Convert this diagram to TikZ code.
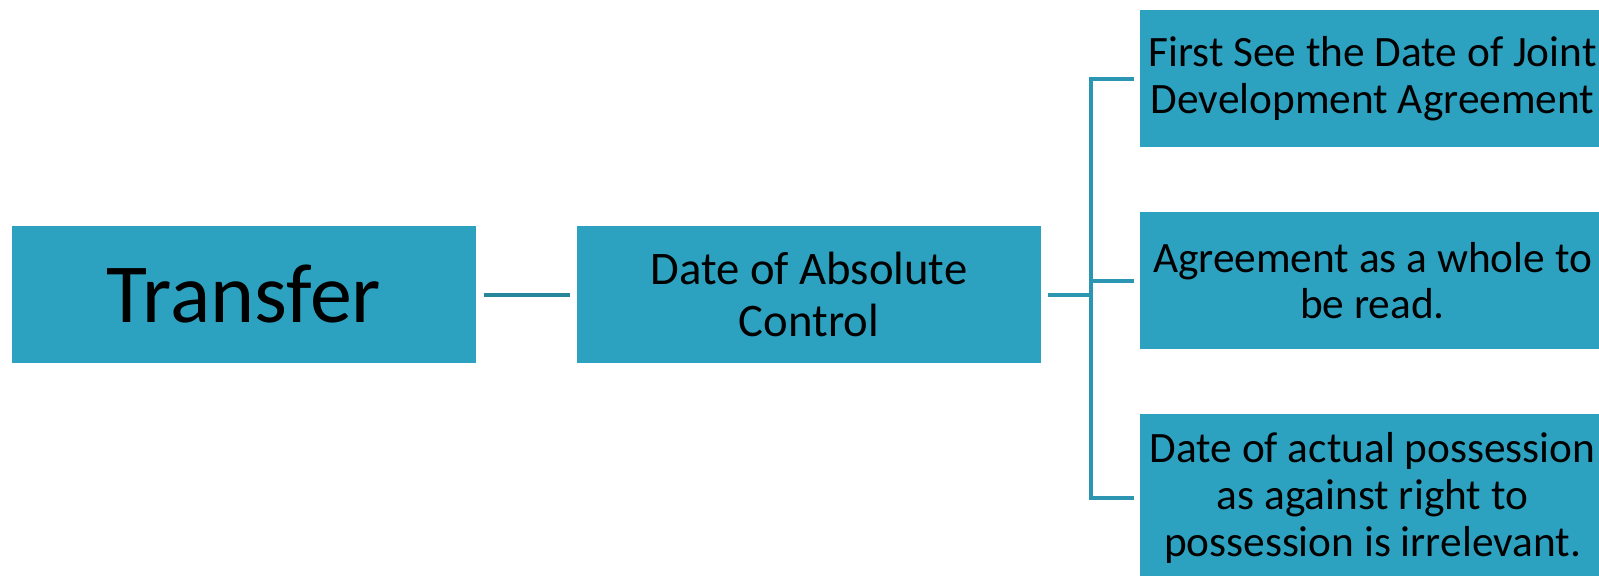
\documentclass[tikz,border=0pt]{standalone}
\usepackage{fontspec}
\setmainfont{Carlito}
\definecolor{boxfill}{RGB}{44,162,192}
\definecolor{linkA}{RGB}{38,134,156}
\definecolor{linkB}{RGB}{44,150,178}
\begin{document}
\begin{tikzpicture}[x=0.75pt,y=-0.75pt,
  box/.style={fill=boxfill, draw=none, inner sep=0pt, align=center,
    minimum width=348.5pt, minimum height=102.75pt, text=black},
  bigtext/.style={font=\fontsize{63}{70}\selectfont},
  midtext/.style={font=\fontsize{35}{38.8}\selectfont},
  smalltext/.style={font=\fontsize{32.5}{35}\selectfont},
  link/.style={line width=3pt, line join=miter}]
  \useasboundingbox (0,0) rectangle (1599,575);
  \clip (0,0) rectangle (1599,575);

  % main chain
  \node[box, bigtext] (T) at (244,294.5) {Transfer};
  \node[box, midtext] (D) at (809,294.5) {Date of Absolute\\Control};

  % right-hand column
  \node[box, smalltext] (B1) at (1372.5,78.5) {First See the Date of Joint\\Development Agreement};
  \node[box, smalltext] (B2) at (1372.5,280.5) {Agreement as a whole to\\be read.};
  \node[box, smalltext, minimum height=126pt] (B3) at (1372.5,498)
    {Date of actual possession\\as against right to\\possession is irrelevant.};

  % connectors
  \coordinate (J) at (1091,294.5);
  \draw[link, linkA] ([xshift=5.25pt]T.east) -- ([xshift=-4.5pt]D.west);
  \draw[link, linkB] ([xshift=4.5pt]D.east) -- (J);
  \draw[link, linkB] ([xshift=-4.5pt]B1.west) -- (J |- B1.west)
    -- (J |- B3.west) -- ([xshift=-4.5pt]B3.west);
  \draw[link, linkB] (J |- B2.west) -- ([xshift=-4.5pt]B2.west);
\end{tikzpicture}
\end{document}
